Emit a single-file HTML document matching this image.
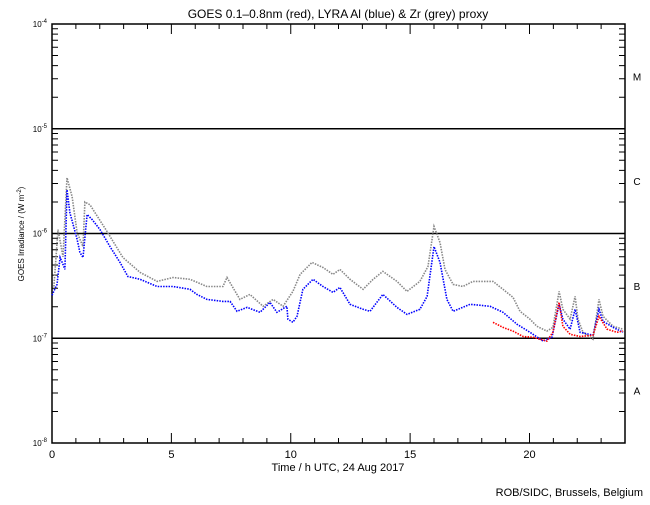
<!DOCTYPE html>
<html><head><meta charset="utf-8"><style>
body{margin:0;background:#fff}
svg text{font-family:"Liberation Sans",sans-serif;fill:#000}
</style></head><body>
<svg id="chart" width="650" height="500" xmlns="http://www.w3.org/2000/svg">
<text x="338" y="18" font-size="12" text-anchor="middle">GOES 0.1–0.8nm (red), LYRA Al (blue) &amp; Zr (grey) proxy</text>
<text x="338" y="471" font-size="11" text-anchor="middle">Time / h UTC, 24 Aug 2017</text>
<text x="643" y="496" font-size="11" text-anchor="end">ROB/SIDC, Brussels, Belgium</text>
<text transform="translate(24,234) rotate(-90)" font-size="8" text-anchor="middle">GOES Irradiance / (W m<tspan dy="-3" font-size="6">-2</tspan><tspan dy="3">)</tspan></text>
<g id="axes"></g>
<g id="series"></g>
</svg>
<script>
const hours=[0,5,10,15,20];
const yExps=[-4,-5,-6,-7,-8];
const classes=['M','C','B','A'];
const greyT=[0.08,0.25,0.46,0.63,0.84,1.05,1.30,1.38,1.59,2.30,2.97,3.69,4.40,5.07,5.78,6.49,7.16,7.33,7.87,8.29,8.84,9.26,9.68,10.09,10.39,10.89,11.35,11.77,12.06,12.48,13.03,13.45,13.86,14.45,14.87,15.41,15.75,16.00,16.25,16.46,16.80,17.21,17.63,18.47,18.89,19.31,19.60,20.02,20.31,20.73,20.98,21.24,21.40,21.70,21.91,22.03,22.24,22.66,22.91,23.08,23.50,23.92];
const greyV=[3.12e-7,1.09e-6,6.0e-7,3.41e-6,2.25e-6,1.02e-6,7.5e-7,2.0e-6,1.88e-6,1.05e-6,5.9e-7,4.25e-7,3.49e-7,3.8e-7,3.65e-7,3.12e-7,3.12e-7,3.8e-7,2.35e-7,2.62e-7,2.02e-7,2.35e-7,2.02e-7,2.8e-7,4.07e-7,5.3e-7,4.74e-7,4.07e-7,4.54e-7,3.65e-7,2.93e-7,3.65e-7,4.35e-7,3.49e-7,2.8e-7,3.49e-7,4.85e-7,1.17e-6,8.2e-7,4.54e-7,3.27e-7,3.12e-7,3.49e-7,3.49e-7,2.93e-7,2.46e-7,1.81e-7,1.52e-7,1.30e-7,1.17e-7,1.27e-7,2.8e-7,1.89e-7,1.52e-7,2.51e-7,1.52e-7,1.14e-7,0.98e-7,2.35e-7,1.62e-7,1.30e-7,1.22e-7];
const blueT=[0,0.21,0.34,0.46,0.54,0.63,0.75,1.05,1.17,1.30,1.47,1.68,2.01,2.43,2.85,3.18,3.69,4.40,5.07,5.78,6.07,6.49,7.16,7.46,7.75,8.17,8.71,9.13,9.42,9.84,9.88,10.09,10.26,10.51,10.93,11.35,11.77,12.06,12.48,13.03,13.32,13.86,14.45,14.87,15.41,15.71,16.00,16.25,16.54,16.80,17.51,18.35,18.89,19.48,20.02,20.57,20.94,21.24,21.40,21.70,21.91,22.12,22.66,22.91,23.08,23.50,23.92];
const blueV=[2.57e-7,3.27e-7,5.9e-7,5.07e-7,4.54e-7,2.62e-6,1.58e-6,8.8e-7,6.6e-7,5.9e-7,1.52e-6,1.36e-6,1.09e-6,7.5e-7,5.3e-7,3.89e-7,3.65e-7,3.12e-7,3.12e-7,2.93e-7,2.62e-7,2.35e-7,2.25e-7,2.25e-7,1.81e-7,1.97e-7,1.77e-7,2.2e-7,1.77e-7,2.02e-7,1.52e-7,1.42e-7,1.62e-7,2.93e-7,3.65e-7,3.12e-7,2.74e-7,3.06e-7,2.11e-7,1.89e-7,1.81e-7,2.62e-7,1.97e-7,1.69e-7,1.89e-7,2.51e-7,7.5e-7,5.3e-7,2.35e-7,1.81e-7,2.11e-7,2.02e-7,1.77e-7,1.36e-7,1.14e-7,0.94e-7,1.02e-7,2.11e-7,1.52e-7,1.22e-7,1.89e-7,1.14e-7,1.07e-7,1.89e-7,1.45e-7,1.27e-7,1.14e-7];
const redT=[18.47,18.89,19.31,19.73,20.15,20.73,20.98,21.24,21.40,21.70,22.12,22.66,22.91,23.25,23.66,23.92];
const redV=[1.42e-7,1.27e-7,1.17e-7,1.04e-7,1.02e-7,0.94e-7,1.14e-7,2.2e-7,1.30e-7,1.09e-7,1.04e-7,1.07e-7,1.62e-7,1.22e-7,1.14e-7,1.17e-7];

const X0=52,X1=625,YT=24,YB=443;
const xs=h=>X0+h*(X1-X0)/24;
const ys=v=>YB-(Math.log10(v)+8)*(YB-YT)/4;
const NS='http://www.w3.org/2000/svg';
const ax=document.getElementById('axes'),sr=document.getElementById('series');
function mk(tag,attrs,parent){const e=document.createElementNS(NS,tag);for(const k in attrs)e.setAttribute(k,attrs[k]);parent.appendChild(e);return e;}
const frame=mk('rect',{x:X0,y:YT,width:X1-X0,height:YB-YT,fill:'none',stroke:'#000','stroke-width':1.5},ax);


for(let h=1;h<24;h++){
  const big=h%5===0,L=big?10:5,x=xs(h);
  const t=mk('path',{d:`M${x},${YB}v${-L}M${x},${YT}v${L}`,stroke:'#000','stroke-width':1},ax);
  
  
}
hours.forEach(h=>{
  const t=mk('text',{x:xs(h),y:458,'font-size':11,'text-anchor':'middle'},ax);t.textContent=h;
  
  
});
yExps.forEach(e=>{
  const y=ys(Math.pow(10,e));
  const t=mk('text',{x:47,y:y+3,'font-size':8,'text-anchor':'end'},ax);
  t.innerHTML=`10<tspan dy="-4" font-size="6">${e}</tspan>`;
  
  
  if(e>-8&&e<-4){
    const l=mk('line',{x1:X0,x2:X1,y1:y,y2:y,stroke:'#000','stroke-width':1.5},ax);
    
    
  }
  if(e>-8){
    for(let m=2;m<10;m++){
      const yy=ys(m*Math.pow(10,e-1));
      const tk=mk('path',{d:`M${X0},${yy}h6M${X1},${yy}h-6`,stroke:'#000','stroke-width':1},ax);
      
      
    }
  }
});
classes.forEach((c,i)=>{
  const y=ys(Math.pow(10,-4.5-i));
  const t=mk('text',{x:637,y:y+4,'font-size':10,'text-anchor':'middle'},ax);t.textContent=c;
  
  
});
function series(T,V,color,name){
  const d=T.map((t,i)=>(i?'L':'M')+xs(t).toFixed(1)+','+ys(V[i]).toFixed(1)).join('');
  const p=mk('path',{d:d,fill:'none',stroke:color,'stroke-width':1.6,'stroke-dasharray':'1.5 1.2'},sr);
  
  
}
series(greyT,greyV,'#888','zr-grey-series');
series(blueT,blueV,'#0000ff','al-blue-series');
series(redT,redV,'#ff0000','goes-red-series');
</script>
</body></html>
